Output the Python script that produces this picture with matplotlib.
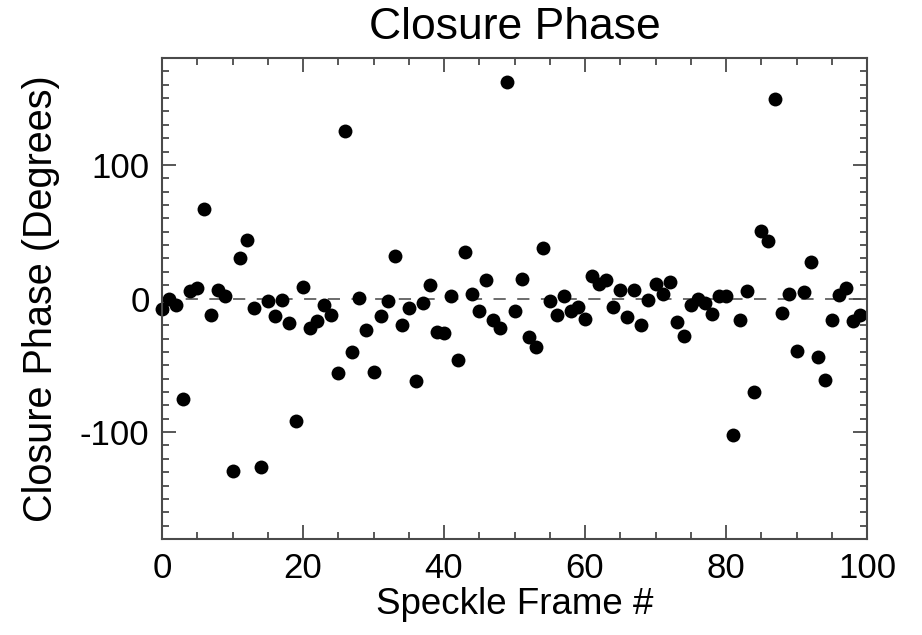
import matplotlib
matplotlib.use("Agg")
import matplotlib.pyplot as plt
from matplotlib.ticker import MultipleLocator

plt.rcParams['font.family'] = ['Liberation Sans', 'DejaVu Sans']

frames = list(range(100))
phase = [
    -7.5, 0, -4.5, -75, 5.5, 8, 67, -12, 6, 2,
    -129, 30, 43.5, -7, -126, -2, -13, -1, -18, -92,
    8.5, -22, -17, -5, -12, -56, 125, -40, 0.5, -23.5,
    -55, -13, -1.5, 32, -20, -7, -61.5, -3, 10, -25,
    -26, 2, -46, 35, 3, -9.5, 14, -16, -22, 162,
    -9, 14.7, -29, -36.5, 38, -1.5, -12, 1.5, -9, -6,
    -15.7, 16.7, 11, 13.5, -6.5, 6.5, -14, 6.5, -19.5, -1,
    11, 3.5, 12.7, -17.7, -27.7, -4.5, -0.7, -3.5, -11.5, 1.5,
    1.5, -102, -16, 5.5, -70, 50.5, 42.7, 149.5, -11, 3,
    -39.5, 4.7, 27, -44, -60.7, -16, 2.7, 8, -16.5, -12,
]
xlim = (0, 100)
ylim = (-180, 180)
xticks = [0, 20, 40, 60, 80, 100]
yticks = [-100, 0, 100]

fig = plt.figure(figsize=(9.22, 6.35), dpi=100)
ax = fig.add_axes([162/922, 1-539/635, (867-162)/922, (539-58)/635])

ax.axhline(0, color='#444444', lw=1.1, linestyle=(0, (8.0, 7.5)), zorder=1)
ax.plot(frames, phase, 'o', color='black', ms=10, mew=0, zorder=2, clip_on=False)

ax.set_xlim(*xlim)
ax.set_ylim(*ylim)
ax.set_xticks(xticks)
ax.set_yticks(yticks)
ax.set_yticklabels(['-100', '0', '100'])
ax.xaxis.set_minor_locator(MultipleLocator(5))
ax.yaxis.set_minor_locator(MultipleLocator(10))

for s in ax.spines.values():
    s.set_linewidth(1.5)
    s.set_color('#4a4a4a')

ax.tick_params(which='both', direction='in', top=True, right=True, color='#4a4a4a', width=1.3)
ax.tick_params(which='major', length=10, pad=9, labelsize=25)
ax.tick_params(which='minor', length=5)

ax.set_title('Closure Phase', fontsize=32, pad=14)
ax.set_xlabel('Speckle Frame #', fontsize=26.5, labelpad=2)
ax.set_ylabel('Closure Phase (Degrees)', fontsize=28.5, labelpad=14)

fig.savefig('out.png', dpi=100)
